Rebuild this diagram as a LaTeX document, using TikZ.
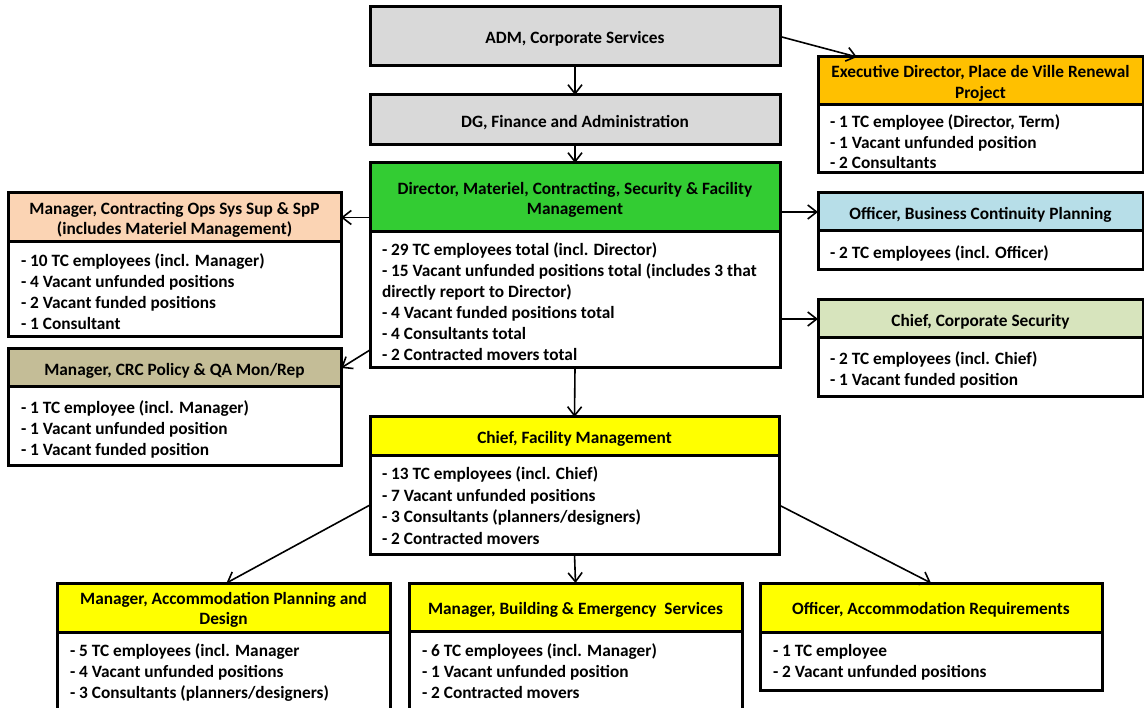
\documentclass[tikz,border=0pt]{standalone}
\usepackage{fontspec}
\setmainfont{Carlito}
\usetikzlibrary{arrows.meta,calc}
\definecolor{cgray}{HTML}{D9D9D9}
\definecolor{cgreen}{HTML}{33CC33}
\definecolor{corange}{HTML}{FFC000}
\definecolor{cpeach}{HTML}{FBD4B4}
\definecolor{cblue}{HTML}{B7DEE8}
\definecolor{clgreen}{HTML}{D7E4BD}
\definecolor{ctan}{HTML}{C4BD97}
\definecolor{cyellow}{HTML}{FFFF00}
\tikzset{
  boxline/.style={draw=black, line width=3pt, outer sep=0pt, inner sep=0pt},
  hdrbox/.style={boxline, align=center, font=\fontsize{17.3}{20.5}\selectfont\bfseries},
  bodybox/.style={boxline, fill=white},
  bodytext/.style={inner sep=0pt, outer sep=0pt, align=left, anchor=north west, font=\fontsize{17.3}{21}\selectfont\bfseries},
  arr/.style={line width=1.6pt, -{Straight Barb[length=9pt,width=14pt,line width=1.6pt]}}
}
% #1 name, #2 x1, #3 y1, #4 x2, #5 ydiv, #6 y2, #7 fill, #8 header
\newcommand\orgunit[8]{%
  \node[hdrbox, fill=#7, minimum width={#4-#2}, minimum height={#5-#3}] (#1h) at ({(#2+#4)/2},{(#3+#5)/2}) {\hstrut#8};
  \node[bodybox, minimum width={#4-#2}, minimum height={#6-#5}, anchor=north] (#1b) at (#1h.south) {};
}
\newcommand\ostrut{\rule{0pt}{16.5pt}}
\newcommand\hstrut{\rule{0pt}{17pt}}
\begin{document}
\begin{tikzpicture}[x=1pt,y=-1pt]
\useasboundingbox (0,0) rectangle (1144,708);
\begin{scope}
\clip (0,0) rectangle (1144,708);
\fill[white] (0,0) rectangle (1144,708);

% top boxes
\node[hdrbox, fill=cgray, minimum width=410, minimum height=59] (adm) at (575,36.5) {\hstrut ADM, Corporate Services};
\node[hdrbox, fill=cgray, minimum width=410, minimum height=50] (dg) at (575,120) {\hstrut DG, Finance and Administration};

% director
\orgunit{dir}{370}{163}{780}{232}{368}{cgreen}{Director, Materiel, Contracting, Security \& Facility\\Management}
\node[bodytext] (dirt) at ([xshift=12pt,yshift=-7pt]dirb.north west) {\ostrut- 29 TC employees total (incl. Director)\\- 15 Vacant unfunded positions total (includes 3 that\\directly report to Director)\\- 4 Vacant funded positions total\\- 4 Consultants total\\- 2 Contracted movers total};

% executive director
\orgunit{ex}{818}{57}{1143}{105}{173}{corange}{Executive Director, Place de Ville Renewal\\Project}
\node[bodytext, font=\fontsize{17.3}{20.5}\selectfont\bfseries] (ext) at ([xshift=12pt,yshift=-6.5pt]exb.north west) {\ostrut- 1 TC employee (Director, Term)\\- 1 Vacant unfunded position\\- 2 Consultants};

% business continuity
\orgunit{bcp}{818}{193}{1143}{231}{270}{cblue}{Officer, Business Continuity Planning}
\node[bodytext] (bcpt) at ([xshift=12pt,yshift=-11pt]bcpb.north west) {\ostrut- 2 TC employees (incl. Officer)};

% corporate security
\orgunit{cs}{818}{300}{1143}{338}{397}{clgreen}{Chief, Corporate Security}
\node[bodytext] (cst) at ([xshift=12pt,yshift=-10pt]csb.north west) {\ostrut- 2 TC employees (incl. Chief)\\- 1 Vacant funded position};

% contracting
\orgunit{mc}{8}{193}{341}{242}{337}{cpeach}{Manager, Contracting Ops Sys Sup \& SpP\\(includes Materiel Management)}
\node[bodytext] (mct) at ([xshift=13pt,yshift=-8pt]mcb.north west) {\ostrut- 10 TC employees (incl. Manager)\\- 4 Vacant unfunded positions\\- 2 Vacant funded positions\\- 1 Consultant};

% CRC
\orgunit{crc}{8}{349}{341}{387}{466}{ctan}{Manager, CRC Policy \& QA Mon/Rep}
\node[bodytext] (crct) at ([xshift=13pt,yshift=-10pt]crcb.north west) {\ostrut- 1 TC employee (incl. Manager)\\- 1 Vacant unfunded position\\- 1 Vacant funded position};

% facility management
\orgunit{fm}{370}{417}{779}{456}{554}{cyellow}{Chief, Facility Management}
\node[bodytext, font=\fontsize{17.3}{21.5}\selectfont\bfseries] (fmt) at ([xshift=12pt,yshift=-7pt]fmb.north west) {\ostrut- 13 TC employees (incl. Chief)\\- 7 Vacant unfunded positions\\- 3 Consultants (planners/designers)\\- 2 Contracted movers};

% bottom row
\orgunit{apd}{57}{583}{390}{632}{730}{cyellow}{Manager, Accommodation Planning and\\Design}
\node[bodytext] (apdt) at ([xshift=13pt,yshift=-8pt]apdb.north west) {\ostrut- 5 TC employees (incl. Manager\\- 4 Vacant unfunded positions\\- 3 Consultants (planners/designers)};

\orgunit{be}{409}{583}{742}{631}{730}{cyellow}{Manager, Building \& Emergency\ \ Services}
\node[bodytext] (bet) at ([xshift=13pt,yshift=-9pt]beb.north west) {\ostrut- 6 TC employees (incl. Manager)\\- 1 Vacant unfunded position\\- 2 Contracted movers};

\orgunit{ar}{760}{583}{1102}{632}{690}{cyellow}{Officer, Accommodation Requirements}
\node[bodytext] (art) at ([xshift=13pt,yshift=-8pt]arb.north west) {\ostrut- 1 TC employee\\- 2 Vacant unfunded positions};

% connectors
\draw[arr] (adm.south) -- (dg.north);
\draw[arr] (dg.south) -- (dirh.north);
\draw[arr] (adm.east) -- ($(exh.north west)!0.12!(exh.north east)$);
\draw[arr] (dirh.east |- bcph.west) -- (bcph.west);
\draw[arr] (dirb.east |- csh.west) -- (csh.west);
\draw[arr] (dirh.west |- mch.east) -- (mch.east);
\draw[arr] ([yshift=-50pt]dirb.west) -- (crch.east);
\draw[arr] (dirb.south) -- (fmh.north);
\draw[arr] (fmb.west) -- ([xshift=3pt]apdh.north);
\draw[arr] (fmb.south) -- (beh.north);
\draw[arr] (fmb.east) -- (arh.north);
\end{scope}
\end{tikzpicture}
\end{document}
